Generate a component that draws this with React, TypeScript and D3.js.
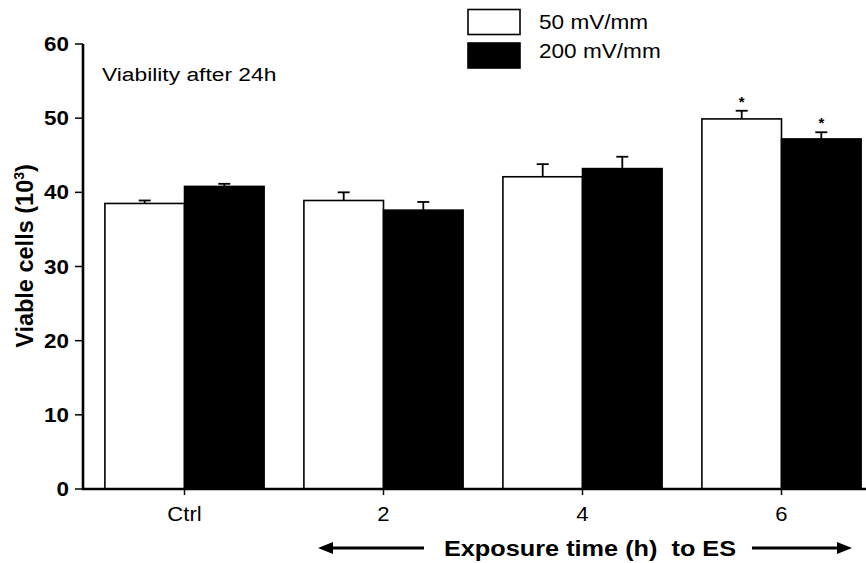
import React from "react";
import * as d3 from "d3";

const categories = ["Ctrl", "2", "4", "6"];
const series = ["50 mV/mm", "200 mV/mm"];
const mean50 = [38.5, 38.9, 42.1, 49.9];
const sem50 = [0.4, 1.1, 1.7, 1.1];
const mean200 = [40.8, 37.6, 43.2, 47.2];
const sem200 = [0.35, 1.1, 1.6, 0.9];
const star50 = [false, false, false, true];
const star200 = [false, false, false, true];
const yTicks = [0, 10, 20, 30, 40, 50, 60];

const W = 866;
const H = 563;
const FONT = "'Liberation Sans', Arial, Helvetica, sans-serif";

// stretched text, the source picture is wider than tall glyphs would be
const SText = ({ x, y, size, weight = "normal", anchor = "start", sx = 1.15, children }: any) => (
  <text
    transform={`translate(${x},${y}) scale(${sx},1)`}
    fontSize={size}
    fontWeight={weight}
    textAnchor={anchor}
    fontFamily={FONT}
    fill="#000"
  >
    {children}
  </text>
);

export default function App() {
  const y = d3.scaleLinear().domain([0, 60]).range([489, 44]);
  const x0 = d3.scaleBand().domain(categories).range([85, 881]).paddingInner(0.2).paddingOuter(0.1);
  const x1 = d3.scaleBand().domain(series).range([0, x0.bandwidth()]);

  const rows = categories.map((c, i) => [
    { cat: c, s: series[0], v: mean50[i], e: sem50[i], star: star50[i], fill: "#fff" },
    { cat: c, s: series[1], v: mean200[i], e: sem200[i], star: star200[i], fill: "#000" },
  ]).flat();

  const arrowY = 548;

  return (
    <svg width={W} height={H} style={{ position: "absolute", left: 0, top: 0, background: "#fff" }}>
      <rect width={W} height={H} fill="#fff" />

      {/* bars */}
      {rows.map((d, i) => {
        const bx = (x0(d.cat) as number) + (x1(d.s) as number);
        const bw = x1.bandwidth();
        const cx = bx + bw / 2;
        const top = y(d.v);
        const et = y(d.v + d.e);
        return (
          <g key={i}>
            <rect x={bx} y={top} width={bw} height={y(0) - top} fill={d.fill} stroke="#000" strokeWidth={1.6} />
            <line x1={cx} x2={cx} y1={top} y2={et} stroke="#000" strokeWidth={1.8} />
            <line x1={cx - 6} x2={cx + 6} y1={et} y2={et} stroke="#000" strokeWidth={1.8} />
            {d.star && (
              <SText x={cx} y={et - 4} size={15} weight="bold" anchor="middle" sx={1}>*</SText>
            )}
          </g>
        );
      })}

      {/* y axis */}
      <line x1={83} x2={83} y1={y(60)} y2={y(0) + 1} stroke="#000" strokeWidth={2.6} />
      {yTicks.map((t) => (
        <g key={t}>
          <line x1={75} x2={83} y1={y(t)} y2={y(t)} stroke="#000" strokeWidth={1.5} />
          <SText x={69} y={y(t) + 7} size={20} weight="bold" anchor="end" sx={1.12}>{t}</SText>
        </g>
      ))}

      {/* x axis */}
      <line x1={82} x2={W} y1={y(0)} y2={y(0)} stroke="#000" strokeWidth={2.6} />
      {categories.map((c) => {
        const cx = (x0(c) as number) + x0.bandwidth() / 2;
        return (
          <g key={c}>
            <line x1={cx} x2={cx} y1={y(0)} y2={y(0) + 6} stroke="#000" strokeWidth={1.5} />
            <SText x={cx} y={521} size={21} anchor="middle" sx={1.05}>{c}</SText>
          </g>
        );
      })}

      {/* y label */}
      <text
        transform="translate(33,256) rotate(-90)"
        fontSize={23.5}
        fontWeight="bold"
        textAnchor="middle"
        fontFamily={FONT}
      >
        Viable cells (10<tspan fontSize={14} dy={-9}>3</tspan><tspan dy={9}>)</tspan>
      </text>

      {/* panel note */}
      <SText x={102} y={81} size={19} sx={1.2}>Viability after 24h</SText>

      {/* legend */}
      <rect x={468} y={9.5} width={52} height={25} fill="#fff" stroke="#000" strokeWidth={1.6} />
      <rect x={468} y={43} width={52} height={25} fill="#000" stroke="#000" strokeWidth={1.6} />
      <SText x={539} y={29} size={20} sx={1.13}>{series[0]}</SText>
      <SText x={539} y={58} size={20} sx={1.13}>{series[1]}</SText>

      {/* x title with arrows */}
      <SText x={590} y={556} size={22} weight="bold" anchor="middle" sx={1.15}>
        Exposure time (h)&#160; to ES
      </SText>
      <line x1={330} x2={424} y1={arrowY} y2={arrowY} stroke="#000" strokeWidth={3} />
      <path d={`M318,${arrowY} L333,${arrowY - 6} L333,${arrowY + 6} Z`} fill="#000" />
      <line x1={752} x2={840} y1={arrowY} y2={arrowY} stroke="#000" strokeWidth={3} />
      <path d={`M852,${arrowY} L837,${arrowY - 6} L837,${arrowY + 6} Z`} fill="#000" />
    </svg>
  );
}
